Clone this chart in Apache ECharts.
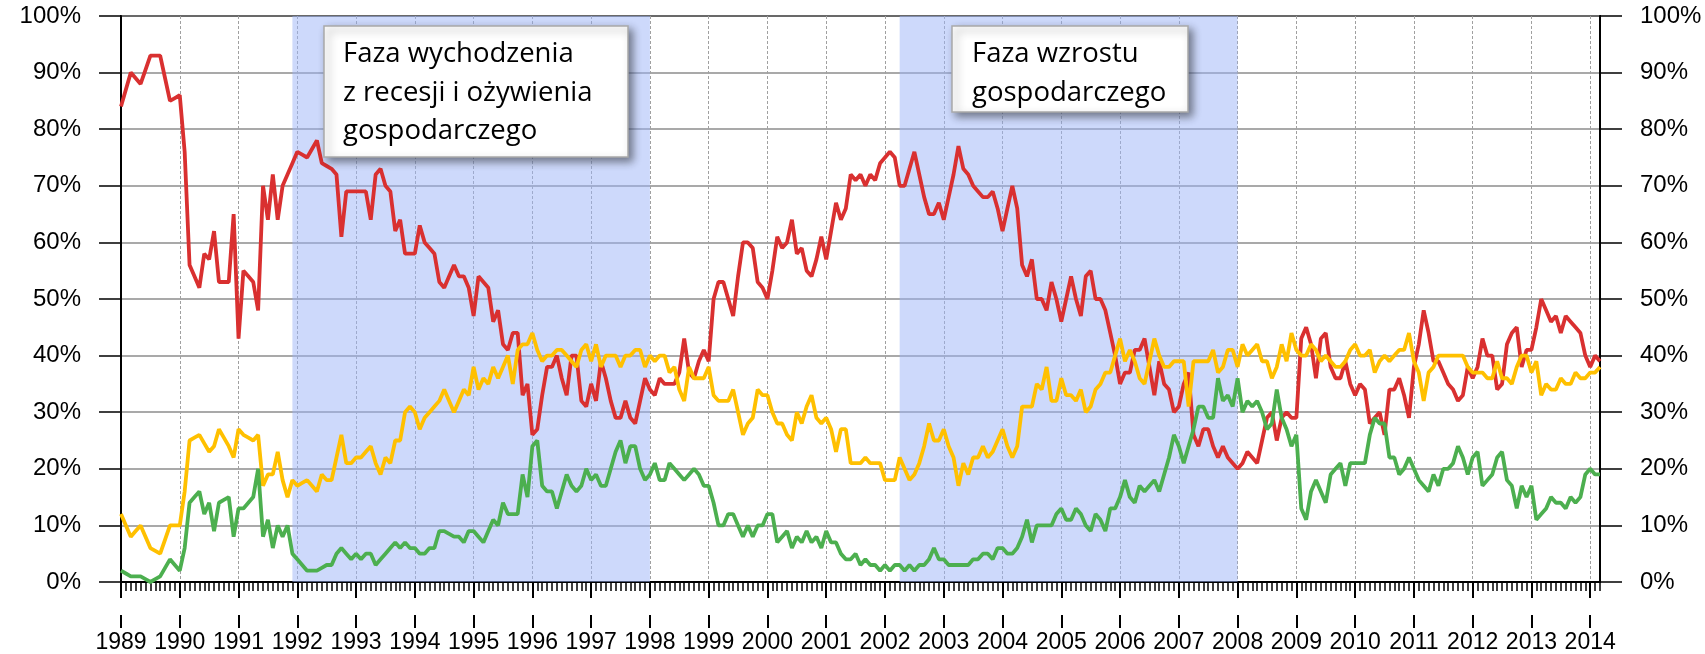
<!DOCTYPE html>
<html>
<head>
<meta charset="utf-8">
<script src="https://cdn.jsdelivr.net/npm/echarts@6/dist/echarts.min.js"></script>
<style>
  html, body { margin: 0; padding: 0; background: #fff; }
  #chart { width: 1705px; height: 654px; }
</style>
</head>
<body>
<div id="chart"></div>
<script>
// monthly shares, Jan 1989 .. Mar 2014 (one row per year)
const red = [
  84, 87, 90, 89, 88, 90.5, 93, 93, 93, 89, 85, 85.5,
  86, 76, 56, 54, 52, 58, 57, 62, 53, 53, 53, 65,
  43, 55, 54, 53, 48, 70, 64, 72, 64, 70, 72, 74,
  76, 75.5, 75, 76.5, 78, 74, 73.5, 73, 72, 61, 69, 69,
  69, 69, 69, 64, 72, 73, 70, 69, 62, 64, 58, 58,
  58, 63, 60, 59, 58, 53, 52, 54, 56, 54, 54, 52,
  47, 54, 53, 52, 46, 48, 42, 41, 44, 44, 33, 35,
  26, 27, 33, 38, 38, 40, 36, 33, 40, 40, 32, 31,
  35, 32, 39, 36, 32, 29, 29, 32, 29, 28, 32, 36,
  34, 33, 36, 35, 35, 35, 37, 43, 37, 36, 39, 41,
  39, 50, 53, 53, 50, 47, 54, 60, 60, 59, 53, 52,
  50, 55, 61, 59, 60, 64, 58, 59, 55, 54, 57, 61,
  57, 62, 67, 64, 66, 72, 71, 72, 70, 72, 71, 74,
  75, 76, 75, 70, 70, 73, 76, 72, 68, 65, 65, 67,
  64, 68, 72, 77, 73, 72, 70, 69, 68, 68, 69, 66,
  62, 66, 70, 66, 56, 54, 57, 50, 50, 48, 53, 50,
  46, 50, 54, 50, 47, 54, 55, 50, 50, 48, 44, 40,
  35, 37, 37, 41, 41, 43, 38, 33, 39, 35, 34, 30,
  31, 35, 37, 26, 24, 27, 27, 24, 22, 24, 22, 21,
  20, 21, 23, 22, 21, 25, 29, 30, 25, 29, 30, 29,
  29, 43, 45, 42, 36, 43, 44, 38, 36, 36, 39, 35,
  33, 35, 34, 28, 29, 30, 26, 34, 34, 36, 33, 29,
  38, 42, 48, 44, 39, 39, 37, 35, 34, 32, 33, 38,
  36, 38, 43, 40, 40, 34, 35, 42, 44, 45, 38, 41,
  41, 45, 50, 48, 46, 47, 44, 47, 46, 45, 44, 40,
  38, 40, 39
];
const yellow = [
  12, 10, 8, 9, 10, 8, 6, 5.5, 5, 7.5, 10, 10,
  10, 16, 25, 25.5, 26, 24.5, 23, 24, 27, 25.5, 24, 22,
  27, 26, 25.5, 25, 26, 17, 19, 19, 23, 18, 15, 18,
  17, 17.5, 18, 17, 16, 19, 18, 18, 22, 26, 21, 21,
  22, 22, 23, 24, 21, 19, 22, 21, 25, 25, 30, 31,
  30, 27, 29, 30, 31, 32, 34, 32, 30, 32, 34, 33,
  38, 34, 36, 35, 38, 36, 38, 40, 35, 41, 42, 42,
  44, 41, 39, 40, 40, 41, 41, 40, 39, 38, 41, 42,
  39, 42, 38, 40, 40, 40, 38, 40, 40, 41, 41, 38,
  40, 39, 40, 40, 37, 38, 34, 32, 38, 36, 36, 36,
  38, 33, 32, 32, 32, 34, 30, 26, 28, 29, 34, 33,
  33, 30, 28, 28, 26, 25, 30, 28, 31, 33, 29, 28,
  29, 27, 23, 27, 27, 21, 21, 21, 22, 21, 21, 21,
  18, 18, 18, 22, 20, 18, 19, 21, 24, 28, 25, 25,
  27, 24, 22, 17, 21, 19, 22, 22, 24, 22, 23, 25,
  27, 24, 22, 24, 31, 31, 31, 35, 34, 38, 32, 32,
  36, 33, 33, 32, 34, 30, 31, 34, 35, 37, 37, 40,
  43, 39, 41, 39, 36, 35, 39, 43, 40, 38, 38, 39,
  39, 39, 31, 39, 39, 39, 39, 41, 37, 38, 41, 41,
  38, 42, 40, 41, 42, 39, 39, 36, 38, 42, 39, 44,
  41, 40, 40, 42, 41, 39, 40, 39, 38, 38, 39, 41,
  42, 40, 40, 41, 37, 39, 40, 39, 40, 41, 41, 44,
  39, 37, 32, 37, 38, 40, 40, 40, 40, 40, 40, 38,
  37, 37, 37, 36, 36, 39, 36, 36, 35, 38, 40, 40,
  37, 39, 33, 35, 34, 34, 36, 35, 35, 37, 36, 36,
  37, 37, 38
];
const green = [
  2, 1.5, 1, 1, 1, 0.5, 0, 0.5, 1, 2.5, 4, 3,
  2, 6, 14, 15, 16, 12, 14, 9, 14, 14.5, 15, 8,
  13, 13, 14, 15, 20, 8, 11, 6, 10, 8, 10, 5,
  4, 3, 2, 2, 2, 2.5, 3, 3, 5, 6, 5, 4,
  5, 4, 5, 5, 3, 4, 5, 6, 7, 6, 7, 6,
  6, 5, 5, 6, 6, 9, 9, 8.5, 8, 8, 7, 9,
  9, 8, 7, 9, 11, 10, 14, 12, 12, 12, 19, 15,
  24, 25, 17, 16, 16, 13, 16, 19, 17, 16, 17, 20,
  18, 19, 17, 17, 20, 23, 25, 21, 24, 24, 20, 18,
  19, 21, 18, 18, 21, 20, 19, 18, 19, 20, 19, 17,
  17, 14, 10, 10, 12, 12, 10, 8, 10, 8, 10, 10,
  12, 12, 7, 8, 9, 6, 8, 7, 9, 7, 8, 6,
  9, 7, 7, 5, 4, 4, 5, 3, 4, 3, 3, 2,
  3, 2, 3, 3, 2, 3, 2, 3, 3, 4, 6, 4,
  4, 3, 3, 3, 3, 3, 4, 4, 5, 5, 4, 6,
  6, 5, 5, 6, 8, 11, 7, 10, 10, 10, 10, 12,
  13, 11, 11, 13, 12, 10, 9, 12, 11, 9, 13, 13,
  15, 18, 15, 14, 17, 16, 17, 18, 16, 19, 22, 26,
  24, 21, 24, 27, 31, 31, 29, 29, 36, 32, 33, 31,
  36, 30, 32, 31, 32, 30, 27, 28, 34, 29, 27, 24,
  26, 13, 11, 16, 18, 16, 14, 19, 20, 21, 17, 21,
  21, 21, 21, 26, 29, 28, 28, 22, 22, 19, 20, 22,
  20, 18, 17, 16, 19, 17, 20, 20, 21, 24, 22, 19,
  22, 23, 17, 18, 19, 22, 23, 18, 17, 13, 17, 15,
  17, 11, 12, 13, 15, 14, 14, 13, 15, 14, 15, 19,
  20, 19, 19
];

// shaded phases [from, to] as months on the axis
const phases = [['1991-12', '1998-01'], ['2002-04', '2008-01']];
const phaseNotes = ['Faza wychodzenia\nz recesji i ożywienia\ngospodarczego', 'Faza wzrostu\ngospodarczego'];

const months = [];
for (let y = 1989; months.length < red.length; y++) {
  for (let m = 1; m <= 12 && months.length < red.length; m++) {
    months.push(y + '-' + (m < 10 ? '0' + m : m));
  }
}

const isYear = (i) => i % 12 === 0;
const axisFont = '"Liberation Sans", Arial, sans-serif';
const noteFont = '27.5px "Open Sans", sans-serif';

const chart = echarts.init(document.getElementById('chart'));

const xBase = {
  type: 'category',
  data: months,
  boundaryGap: false,
  position: 'bottom',
  axisLabel: { show: false },
  splitLine: { show: false }
};

const yBase = {
  type: 'value',
  min: 0,
  max: 100,
  interval: 10,
  axisLine: { show: true, lineStyle: { color: '#000', width: 2 } },
  axisTick: { show: true, length: 22, lineStyle: { color: '#000', width: 1.5 } },
  axisLabel: {
    formatter: '{value}%',
    color: '#000',
    fontSize: 24,
    fontFamily: axisFont,
    margin: 40,
    padding: [7, 0, 0, 0]
  }
};

chart.setOption({
  backgroundColor: '#fff',
  animation: false,
  grid: {
    left: 121, right: 105, top: 16, bottom: 71,
    show: true, borderColor: '#000', borderWidth: 2
  },
  xAxis: [
    {
      ...xBase,
      axisLine: { lineStyle: { color: '#000', width: 2 } },
      axisTick: { interval: 0, length: 9, lineStyle: { color: '#000', width: 1.5 } },
      splitLine: {
        show: true,
        interval: (i) => i > 0 && isYear(i),
        lineStyle: { color: '#a0a0a0', width: 1, type: [3, 2] }
      }
    },
    {
      ...xBase,
      axisLine: { show: false },
      axisTick: { interval: isYear, length: 16, lineStyle: { color: '#000', width: 2 } }
    },
    {
      ...xBase,
      offset: 33,
      axisLine: { show: false },
      axisTick: { interval: isYear, length: 13, lineStyle: { color: '#000', width: 2 } },
      axisLabel: {
        show: true,
        interval: isYear,
        formatter: (v) => v.slice(0, 4),
        color: '#000',
        fontSize: 23,
        fontFamily: axisFont,
        margin: 16
      }
    }
  ],
  yAxis: [
    {
      ...yBase,
      position: 'left',
      splitLine: { show: true, lineStyle: { color: '#8c8c8c', width: 1.5 } }
    },
    {
      ...yBase,
      position: 'right',
      splitLine: { show: false }
    }
  ],
  series: [
    {
      name: 'phases',
      type: 'line',
      data: [],
      z: 1,
      silent: true,
      markArea: {
        silent: true,
        itemStyle: { color: 'rgba(155, 179, 247, 0.5)' },
        data: phases.map(([a, b]) => [{ xAxis: a }, { xAxis: b }])
      }
    },
    {
      name: 'red',
      type: 'line',
      data: red,
      showSymbol: false,
      z: 3,
      lineStyle: { color: '#d93030', width: 3.8 },
      itemStyle: { color: '#d93030' }
    },
    {
      name: 'yellow',
      type: 'line',
      data: yellow,
      showSymbol: false,
      z: 3,
      lineStyle: { color: '#ffc000', width: 3.8 },
      itemStyle: { color: '#ffc000' }
    },
    {
      name: 'green',
      type: 'line',
      data: green,
      showSymbol: false,
      z: 3,
      lineStyle: { color: '#4caf4f', width: 3.8 },
      itemStyle: { color: '#4caf4f' }
    }
  ],
  graphic: [
    {
      type: 'rect', z: 100,
      shape: { x: 324, y: 26, width: 304, height: 131 },
      style: {
        fill: '#fff', stroke: '#a9a9a9', lineWidth: 1.5,
        shadowBlur: 8, shadowOffsetX: 4, shadowOffsetY: 4, shadowColor: 'rgba(0,0,0,0.45)'
      }
    },
    {
      type: 'text', z: 101, x: 343, y: 35,
      style: {
        text: phaseNotes[0], fill: '#000',
        font: noteFont, lineHeight: 38.5, verticalAlign: 'top'
      }
    },
    {
      type: 'rect', z: 100,
      shape: { x: 952, y: 26, width: 236, height: 86 },
      style: {
        fill: '#fff', stroke: '#a9a9a9', lineWidth: 1.5,
        shadowBlur: 8, shadowOffsetX: 4, shadowOffsetY: 4, shadowColor: 'rgba(0,0,0,0.45)'
      }
    },
    {
      type: 'text', z: 101, x: 972, y: 35,
      style: {
        text: phaseNotes[1], fill: '#000',
        font: noteFont, lineHeight: 38.5, verticalAlign: 'top'
      }
    }
  ]
});
</script>
</body>
</html>
